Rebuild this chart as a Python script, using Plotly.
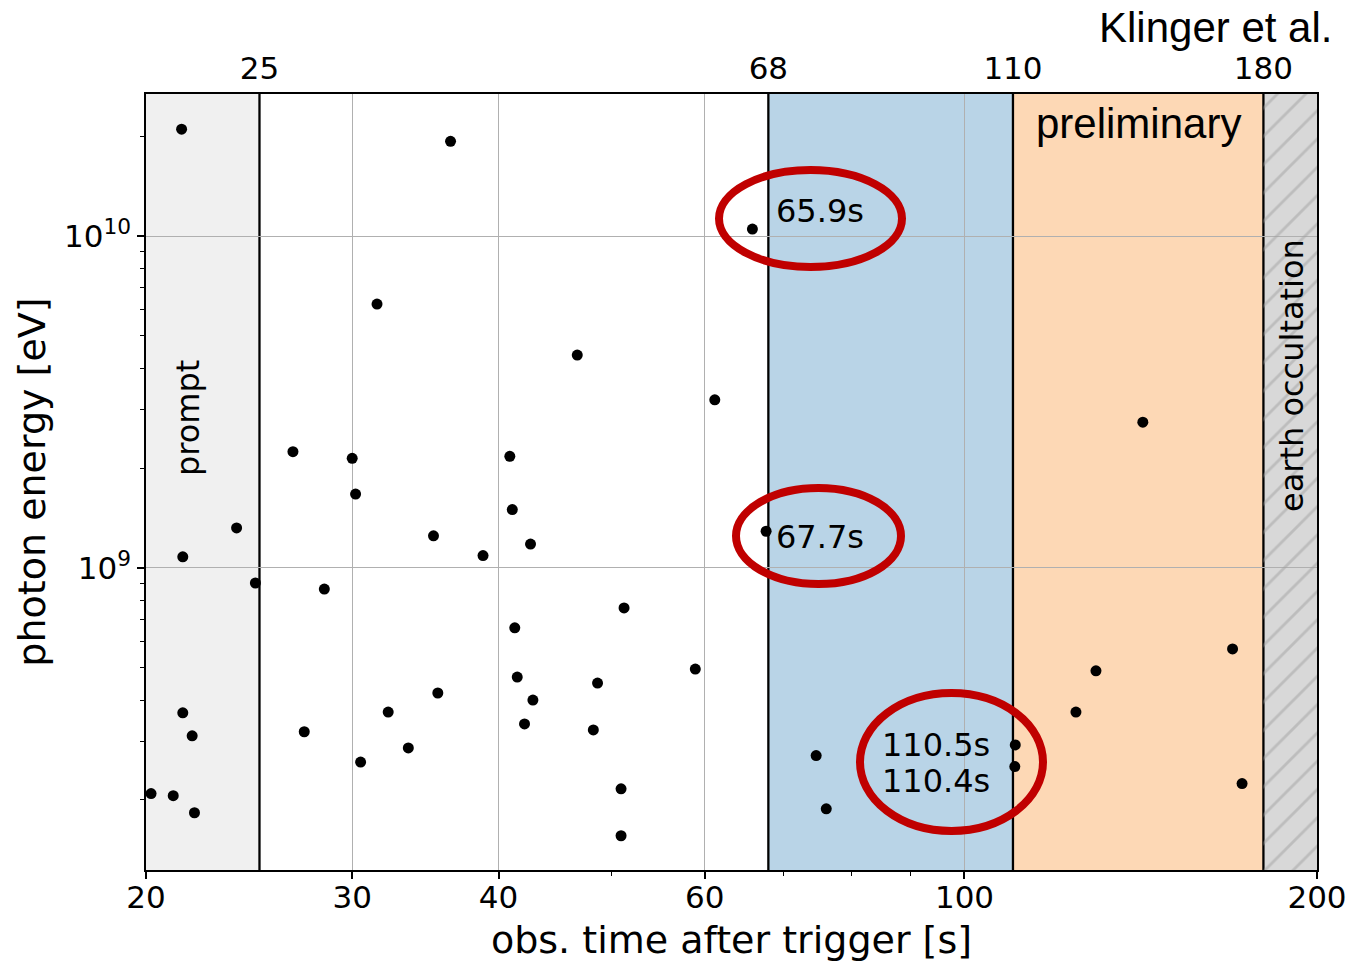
import numpy as np
import plotly.graph_objects as go

# ---------------- data ----------------
obs_time = [21.45, 36.4, 65.9, 31.5, 46.7, 61.2, 142.0, 26.7, 30.0, 40.9,
            30.2, 41.1, 23.9, 35.2, 42.6, 21.5, 38.8, 67.7, 24.8, 28.4,
            51.2, 41.3, 58.9, 129.5, 169.4, 41.5, 48.6, 35.5, 42.8, 21.5,
            32.2, 124.5, 42.1, 27.3, 48.2, 21.9, 33.5, 110.5, 110.4, 74.7,
            30.5, 172.6, 50.9, 20.2, 21.1, 22.0, 76.2, 50.9]
energy_eV = [2.10e10, 1.93e10, 1.05e10, 6.24e9, 4.38e9, 3.21e9, 2.75e9, 2.24e9, 2.14e9, 2.17e9,
             1.67e9, 1.50e9, 1.32e9, 1.25e9, 1.18e9, 1.08e9, 1.09e9, 1.29e9, 9.01e8, 8.64e8,
             7.58e8, 6.60e8, 4.96e8, 4.90e8, 5.70e8, 4.69e8, 4.50e8, 4.20e8, 4.00e8, 3.66e8,
             3.68e8, 3.68e8, 3.39e8, 3.21e8, 3.25e8, 3.12e8, 2.87e8, 2.93e8, 2.52e8, 2.72e8,
             2.60e8, 2.24e8, 2.16e8, 2.09e8, 2.06e8, 1.83e8, 1.88e8, 1.56e8]

# highlighted photons (time, energy, label)
hl_time = [65.9, 67.7, 110.5, 110.4]
hl_energy = [1.05e10, 1.29e9, 2.93e8, 2.52e8]
hl_label = ["65.9s", "67.7s", "110.5s", "110.4s"]

# phase boundaries [s]
boundaries = [25, 68, 110, 180]
x_min, x_max = 20, 200
y_min, y_max = 1.23e8, 2.68e10

x_major = [20, 30, 40, 60, 100, 200]
x_minor = [50, 70, 80, 90]
y_major = [1e9, 1e10]
y_major_text = ["10<sup>9</sup>", "10<sup>10</sup>"]
y_minor = [k * 1e8 for k in range(2, 10)] + [k * 1e9 for k in range(2, 10)] + [2e10]

# ---------------- figure ----------------
W, H = 1353, 962
ML, MR, MT, MB = 146, 36, 94, 92
PW, PH = W - ML - MR, H - MT - MB

def px(x):
    return (x - ML) / PW

def py(y):
    return (H - MB - y) / PH

FONT = "DejaVu Sans"
ARIAL = "Liberation Sans, Arial"

fig = go.Figure()

# hatch for earth occultation
fig.add_trace(go.Scatter(
    x=[boundaries[3], x_max, x_max, boundaries[3], boundaries[3]],
    y=[1e7, 1e7, 1e12, 1e12, 1e7],
    mode="lines", line=dict(width=0), fill="toself",
    fillcolor="rgba(0,0,0,0)",
    fillpattern=dict(shape="/", size=20, solidity=0.14, fgcolor="#a2a2a2",
                     bgcolor="rgba(0,0,0,0)"),
    hoverinfo="skip", showlegend=False))

fig.add_trace(go.Scatter(
    x=obs_time, y=energy_eV, mode="markers",
    marker=dict(color="black", size=11, line=dict(width=0)),
    showlegend=False))

# dummy trace to activate the top axis
fig.add_trace(go.Scatter(x=[boundaries[0]], y=[1e9], xaxis="x2", mode="markers",
                         marker=dict(opacity=0), hoverinfo="skip", showlegend=False))

shapes = []
regions = [(x_min, boundaries[0], "#f0f0f0"),
           (boundaries[1], boundaries[2], "#b9d4e7"),
           (boundaries[2], boundaries[3], "#fdd8b5"),
           (boundaries[3], x_max, "#d8d8d8")]
for a, b, c in regions:
    shapes.append(dict(type="rect", xref="x", yref="paper", x0=a, x1=b, y0=0, y1=1,
                       fillcolor=c, line=dict(width=0), layer="below"))
for b in boundaries:
    shapes.append(dict(type="line", xref="x", yref="paper", x0=b, x1=b, y0=0, y1=1,
                       line=dict(color="black", width=2.3), layer="between"))

# red ellipses (pixel boxes of the stroke centre line)
ellipses = [(719, 170, 902, 267), (736, 488, 901, 584), (860, 693, 1043, 831)]
for x0, y0, x1, y1 in ellipses:
    shapes.append(dict(type="circle", xref="paper", yref="paper",
                       x0=px(x0), x1=px(x1), y0=py(y1), y1=py(y0),
                       line=dict(color="#c00000", width=8), layer="above"))

annotations = []
shifts = [(22, 18, "left"), (8, -6, "left"), (-23, 0, "right"), (-23, -14, "right")]
for t, e, lab, (dx, dy, anc) in zip(hl_time, hl_energy, hl_label, shifts):
    annotations.append(dict(x=np.log10(t), y=np.log10(e), xref="x", yref="y",
                            text=lab, showarrow=False, xanchor=anc, yanchor="middle",
                            xshift=dx, yshift=dy, font=dict(family=FONT, size=32, color="black")))

annotations += [
    dict(x=px(188), y=py(418), xref="paper", yref="paper", text="prompt", textangle=-90,
         showarrow=False, xanchor="center", yanchor="middle",
         font=dict(family=FONT, size=32, color="black")),
    dict(x=px(1292), y=py(376), xref="paper", yref="paper", text="earth occultation",
         textangle=-90, showarrow=False, xanchor="center", yanchor="middle",
         font=dict(family=FONT, size=32, color="black")),
    dict(x=px(1138), y=py(124), xref="paper", yref="paper", text="preliminary",
         showarrow=False, xanchor="center", yanchor="middle",
         font=dict(family=ARIAL, size=42, color="black")),
    dict(x=px(1334), y=py(27), xref="paper", yref="paper", text="Klinger et al.",
         showarrow=False, xanchor="right", yanchor="middle",
         font=dict(family=ARIAL, size=42, color="black")),
]

axis_common = dict(showline=True, linecolor="black", linewidth=1.6, mirror=True,
                   ticks="outside", ticklen=7, tickwidth=1.5, tickcolor="black",
                   showgrid=True, gridcolor="#b0b0b0", gridwidth=1.3, zeroline=False,
                   tickfont=dict(family=FONT, size=31, color="black"))

fig.update_layout(
    width=W, height=H, margin=dict(l=ML, r=MR, t=MT, b=MB, autoexpand=False),
    paper_bgcolor="white", plot_bgcolor="white",
    font=dict(family=FONT, color="black"),
    shapes=shapes, annotations=annotations,
    xaxis=dict(type="log", range=[np.log10(x_min), np.log10(x_max)],
               tickmode="array", tickvals=x_major, ticktext=[str(v) for v in x_major],
               ticklabelstandoff=-8,
               minor=dict(tickvals=x_minor, ticks="outside", ticklen=4, tickwidth=1.2,
                          tickcolor="black", showgrid=False),
               title=dict(text="obs. time after trigger [s]", standoff=18,
                          font=dict(family=FONT, size=38, color="black")),
               **axis_common),
    xaxis2=dict(type="log", range=[np.log10(x_min), np.log10(x_max)], overlaying="x",
                side="top", anchor="y", tickmode="array", tickvals=boundaries,
                ticktext=[str(v) for v in boundaries], ticks="", showgrid=False,
                showline=False, zeroline=False, ticklabelstandoff=8,
                tickfont=dict(family=FONT, size=31, color="black")),
    yaxis=dict(type="log", range=[np.log10(y_min), np.log10(y_max)],
               tickmode="array", tickvals=y_major, ticktext=y_major_text,
               minor=dict(tickvals=y_minor, ticks="outside", ticklen=4, tickwidth=1.2,
                          tickcolor="black", showgrid=False),
               title=dict(text="photon energy [eV]", standoff=7,
                          font=dict(family=FONT, size=38, color="black")),
               **axis_common),
)

fig.write_html("out.html")
